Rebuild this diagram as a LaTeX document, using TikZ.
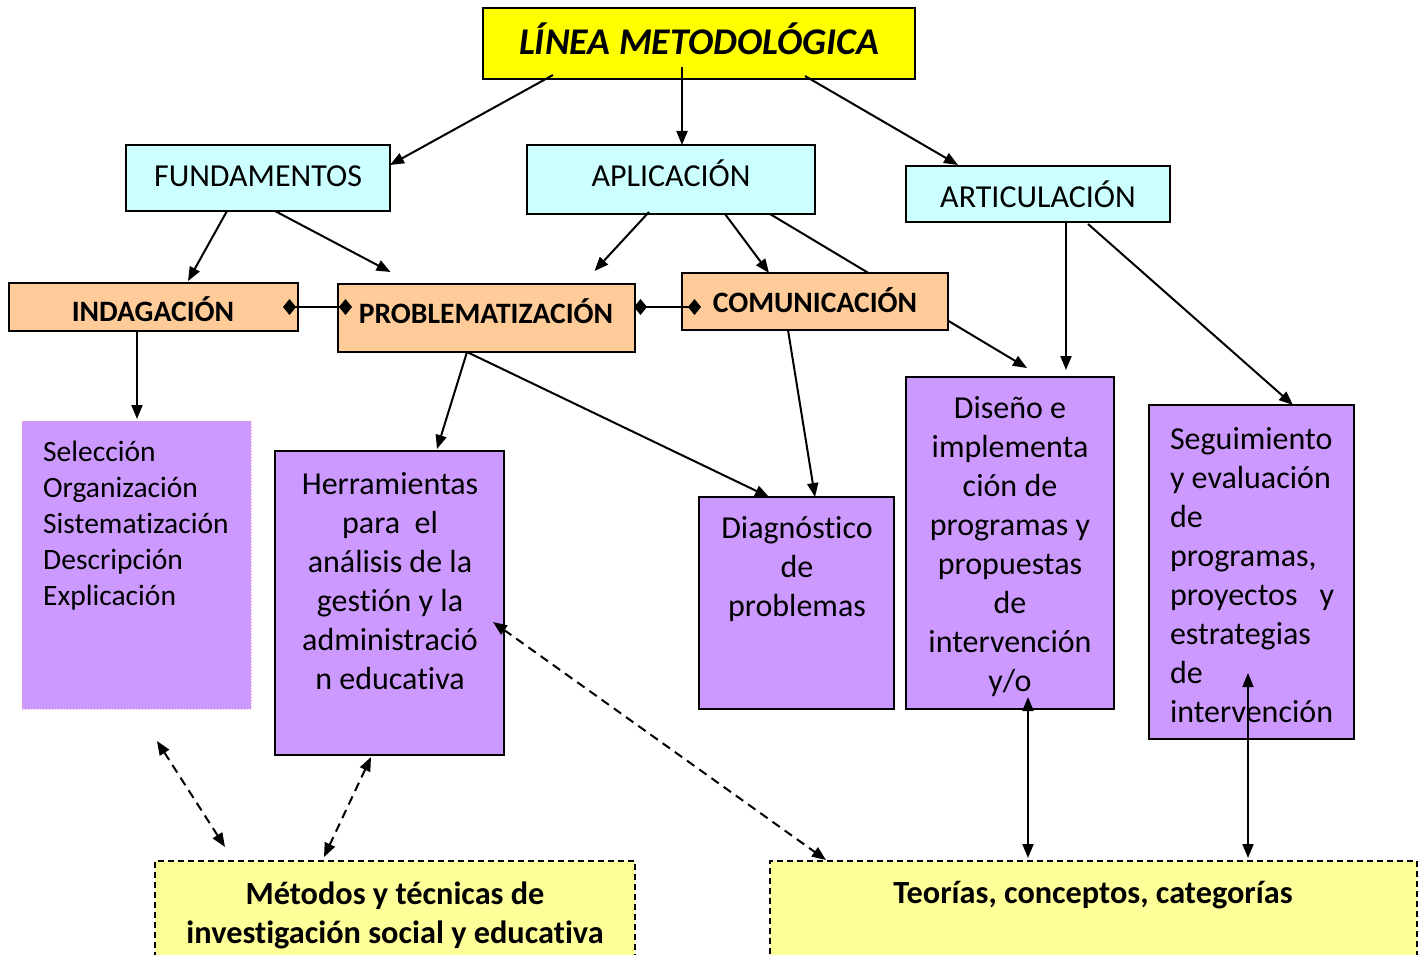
\documentclass[tikz,border=0pt]{standalone}
\usepackage{fontspec}
\setmainfont{Carlito}[Ligatures=NoCommon]
\usetikzlibrary{arrows.meta,fit}
\definecolor{cYel}{HTML}{FFFF00}
\definecolor{cCyan}{HTML}{CCFFFF}
\definecolor{cOra}{HTML}{FFCC99}
\definecolor{cPur}{HTML}{CC99FF}
\definecolor{cLYel}{HTML}{FFFF99}
\definecolor{cPink}{HTML}{FF99CC}
\begin{document}
\begin{tikzpicture}[x=1pt,y=1pt,
  box/.style={draw=black, line width=2pt, inner sep=0pt, outer sep=0pt},
  dbox/.style={draw=black, line width=1.4pt, dash pattern=on 6pt off 4pt, fill=cLYel, inner sep=0pt, outer sep=0pt},
  selbox/.style={draw=cPink, line width=1pt, dotted, fill=cPur, inner sep=0pt, outer sep=0pt},
  txt/.style={inner sep=0pt, outer sep=0pt, font=\fontsize{32}{39}\selectfont},
  btxt/.style={inner sep=0pt, outer sep=0pt, font=\fontsize{29.6}{34}\selectfont\bfseries},
  arr/.style={line width=2pt, -{Triangle[length=14pt,width=11pt]}},
  darr/.style={line width=2pt, {Triangle[length=14pt,width=11pt]}-{Triangle[length=14pt,width=11pt]}},
  ddarr/.style={darr, dash pattern=on 9pt off 6pt},
  dia/.style={line width=2pt, {Diamond[length=13pt,width=16pt]}-{Diamond[length=13pt,width=16pt]}}
]
\useasboundingbox (0,0) rectangle (1427,-955);

% boxes
\node[box, fill=cYel, fit={(483,-8)(915,-79)}] (lm) {};
\node[box, fill=cCyan, fit={(126,-145)(390,-211)}] (fund) {};
\node[box, fill=cCyan, fit={(527,-145)(815,-214)}] (apl) {};
\node[box, fill=cCyan, fit={(906,-166)(1170,-222)}] (art) {};
\node[box, fill=cOra, fit={(9,-283)(298,-331)}] (ind) {};
\node[box, fill=cOra, fit={(338,-284)(635,-352)}] (prob) {};
\node[selbox, fit={(22,-421)(251,-709)}] (sel) {};
\node[box, fill=cPur, fit={(275,-451)(504,-755)}] (herr) {};
\node[box, fill=cPur, fit={(699,-497)(894,-709)}] (diag) {};
\node[box, fill=cPur, fit={(906,-377)(1114,-709)}] (dis) {};
\node[box, fill=cPur, fit={(1149,-405)(1354,-739)}] (seg) {};
\node[dbox, fit={(155,-861)(635,-970)}] (met) {};
\node[dbox, fit={(770,-861)(1417,-970)}] (teo) {};

% line from APLICACION passing behind COMUNICACION to Diseno
\draw[arr] ([xshift=99pt]apl.south) -- ([xshift=17pt,yshift=9pt]dis.north);

\node[box, fill=cOra, fit={(682,-273)(948,-330)}] (com) {};

% texts
\node[inner sep=0pt, anchor=base, font=\fontsize{37.7}{40}\selectfont\bfseries\itshape] (lmT) at (699,-55) {LÍNEA METODOLÓGICA};
\node[txt, anchor=base] (fundT) at (258,-186) {FUNDAMENTOS};
\node[txt, anchor=base] (aplT) at (671,-186) {APLICACIÓN};
\node[txt, anchor=base] (artT) at (1038,-207) {ARTICULACIÓN};
\node[btxt, anchor=base] (indT) at (153,-321) {INDAGACIÓN};
\node[btxt, anchor=base] (probT) at (486,-323) {PROBLEMATIZACIÓN};
\node[btxt, anchor=base] (comT) at (815,-312) {COMUNICACIÓN};
\node[inner sep=0pt, anchor=west, align=left, font=\fontsize{29.5}{36}\selectfont] (selT) at (43,-526) {Selección\\Organización\\Sistematización\\Descripción\\Explicación};
\node[txt, align=center] (herrT) at (390,-581) {Herramientas\\para \ el\\análisis de la\\gestión y la\\administració\\n educativa};
\node[txt, align=center] (diagT) at (797,-569) {Diagnóstico\\de\\problemas};
\node[txt, align=center] (disT) at (1010,-547) {Diseño e\\implementa\\ción de\\programas y\\propuestas\\de\\intervención\\y/o};
\node[txt, align=left, anchor=west] (segT) at (1170,-575) {Seguimiento\\y evaluación\\de\\programas,\\\makebox[164pt][l]{proyectos\hfill y}\\estrategias\\de\\intervención};
\node[inner sep=0pt, align=center, font=\fontsize{32.3}{39}\selectfont\bfseries] (metT) at (395,-915) {Métodos y técnicas de\\investigación social y educativa};
\node[inner sep=0pt, anchor=base, font=\fontsize{32.3}{39}\selectfont\bfseries] (teoT) at (1093,-903) {Teorías, conceptos, categorías};

% arrows
\draw[arr] ([xshift=-146pt,yshift=4pt]lm.south) -- ([yshift=13pt]fund.east);
\draw[arr] ([xshift=-17pt,yshift=12pt]lm.south) -- ([xshift=11pt]apl.north);
\draw[arr] ([xshift=106pt,yshift=3pt]lm.south) -- ([xshift=-80pt,yshift=1pt]art.north);
\draw[arr] ([xshift=-31pt]fund.south) -- ([xshift=34.5pt,yshift=2pt]ind.north);
\draw[arr] ([xshift=17pt]fund.south) -- ([xshift=-96pt,yshift=12pt]prob.north);
\draw[arr] ([xshift=-22pt,yshift=2pt]apl.south) -- ([xshift=108pt,yshift=13pt]prob.north);
\draw[arr] ([xshift=54pt]apl.south) -- ([xshift=-46pt]com.north);
\draw[arr] ([xshift=28pt]art.south) -- ([xshift=56pt,yshift=7pt]dis.north);
\draw[arr] ([xshift=50pt,yshift=-2pt]art.south) -- ([xshift=41.5pt]seg.north);
\draw[arr] ([xshift=-16.5pt]ind.south) -- ([xshift=0.5pt,yshift=2pt]sel.north);
\draw[arr] ([xshift=-19.5pt]prob.south) -- ([xshift=47.5pt,yshift=2pt]herr.north);
\draw[arr] ([xshift=-19.5pt]prob.south) -- ([xshift=-27.5pt]diag.north);
\draw[arr] ([xshift=-27pt]com.south) -- ([xshift=18.5pt]diag.north);

% diamond links
\draw[dia] ([xshift=-15pt]ind.east) -- ([xshift=14pt,yshift=11pt]prob.west);
\draw[dia] ([xshift=-1pt,yshift=11pt]prob.east) -- ([xshift=19pt,yshift=-5.5pt]com.west);

% dashed double arrows
\draw[ddarr] ([xshift=20.5pt,yshift=-32pt]sel.south) -- ([xshift=-170pt,yshift=14pt]met.north);
\draw[ddarr] ([xshift=-18.5pt,yshift=-2pt]herr.south) -- ([xshift=-71pt,yshift=4pt]met.north);
\draw[ddarr] ([xshift=-11pt,yshift=-19pt]herr.east) -- ([xshift=-267.5pt,yshift=1pt]teo.north);

% solid double arrows
\draw[darr] ([xshift=18pt,yshift=12pt]dis.south) -- ([xshift=-65.5pt,yshift=3pt]teo.north);
\draw[darr] ([xshift=-3.5pt,yshift=66pt]seg.south) -- ([xshift=154.5pt,yshift=3pt]teo.north);
\end{tikzpicture}
\end{document}
